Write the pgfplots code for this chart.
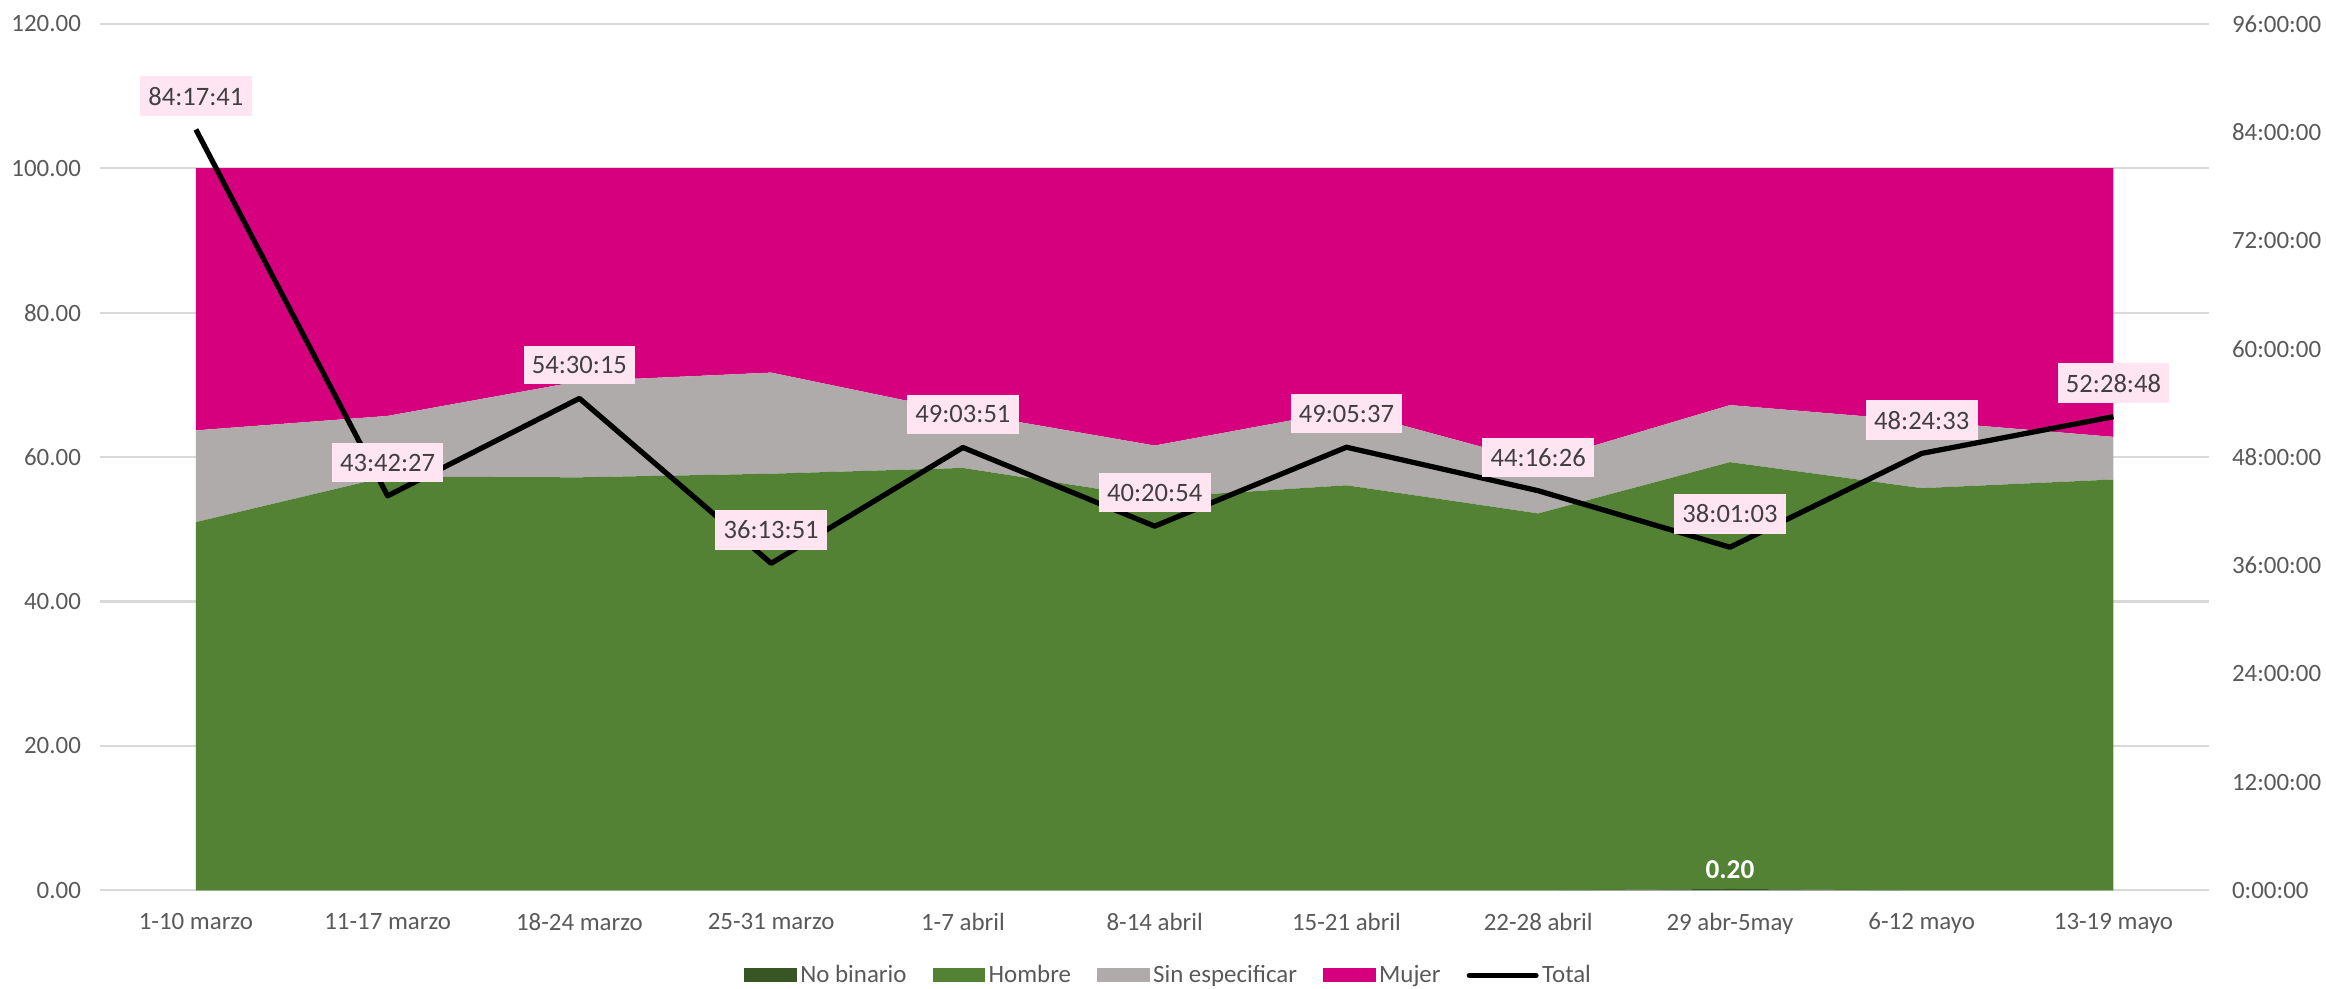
\documentclass[border=0pt]{standalone}
\usepackage{pgfplots}
\pgfplotsset{compat=1.18}
\usepackage{pgfplotstable}
\usepackage{fontspec}
\setmainfont{Carlito}
\definecolor{mujer}{HTML}{D6007F}
\definecolor{sinesp}{HTML}{AFABAB}
\definecolor{hombre}{HTML}{548235}
\definecolor{nobin}{HTML}{375623}
\definecolor{gridgray}{HTML}{D9D9D9}
\definecolor{ticktext}{HTML}{595959}
\definecolor{labfill}{HTML}{FFE5F2}
\definecolor{labtext}{HTML}{404040}

% percentages per week
\pgfplotstableread{
x nobin hombre sinesp mujer
0  0    51.0  12.7  36.3
1  0    57.3   8.4  34.3
2  0    57.2  13.3  29.5
3  0    57.7  14.0  28.3
4  0    58.5   7.7  33.8
5  0    54.4   7.2  38.4
6  0    56.1  10.4  33.5
7  0    52.2   7.1  40.7
8  0.2  59.1   7.9  32.8
9  0    55.7   9.3  35.0
10 0    56.9   5.9  37.2
}\pct

% total time in hours
\pgfplotstableread{
x hours label
0  84.2947 84:17:41
1  43.7075 43:42:27
2  54.5042 54:30:15
3  36.2308 36:13:51
4  49.0642 49:03:51
5  40.3483 40:20:54
6  49.0936 49:05:37
7  44.2739 44:16:26
8  38.0175 38:01:03
9  48.4092 48:24:33
10 52.4800 52:28:48
}\tot

\begin{document}
\begin{tikzpicture}
\path[use as bounding box] (-42bp,-41bp) rectangle (935bp,374bp);
\begin{axis}[
  scale only axis, width=886bp, height=364bp,
  xmin=-0.5, xmax=10.5, ymin=0, ymax=120,
  xtick={0,...,10},
  xticklabels={1-10 marzo,11-17 marzo,18-24 marzo,25-31 marzo,1-7 abril,8-14 abril,15-21 abril,22-28 abril,29 abr-5may,6-12 mayo,13-19 mayo},
  ytick={0,20,...,120},
  ymajorgrids, grid style={draw=gridgray, line width=0.9bp},
  axis line style={draw=none},
  major tick length=0pt,
  yticklabel style={/pgf/number format/fixed, /pgf/number format/fixed zerofill, /pgf/number format/precision=2, xshift=-4.5bp},
  /pgf/number format/assume math mode=true,
  tick label style={font=\fontsize{10.5}{12}\selectfont, text=ticktext},
  xticklabel style={yshift=-6bp},
  stack plots=y,
  legend style={draw=none, fill=none, at={(0.507,-0.098)}, anchor=center,
    font=\fontsize{10.5}{12}\selectfont, text=ticktext, legend columns=-1,
    nodes={inner xsep=1.5bp},
    /tikz/every even column/.append style={column sep=9.5bp}},
  area legend,
  legend image code/.code={\fill[#1] (0bp,-3bp) rectangle (22bp,3bp);},
]
\addplot[draw=none, fill=nobin] table[x=x, y=nobin] {\pct} \closedcycle;
\addlegendentry{No binario}
\addplot[draw=none, fill=hombre] table[x=x, y=hombre] {\pct} \closedcycle;
\addlegendentry{Hombre}
\addplot[draw=none, fill=sinesp] table[x=x, y=sinesp] {\pct} \closedcycle;
\addlegendentry{Sin especificar}
\addplot[draw=none, fill=mujer] table[x=x, y=mujer] {\pct} \closedcycle;
\addlegendentry{Mujer}
\addlegendimage{legend image code/.code={\draw[black, line width=2.2bp, line cap=round] (1bp,0bp) -- (29bp,0bp);}}
\addlegendentry{Total}
\end{axis}
\begin{axis}[
  scale only axis, width=886bp, height=364bp,
  xmin=-0.5, xmax=10.5, ymin=0, ymax=96,
  axis x line=none, axis y line*=right,
  y axis line style={draw=none},
  major tick length=0pt,
  ytick={0,12,...,96},
  yticklabels={0:00:00,12:00:00,24:00:00,36:00:00,48:00:00,60:00:00,72:00:00,84:00:00,96:00:00},
  yticklabel style={font=\fontsize{10.5}{12}\selectfont, text=ticktext, xshift=6bp},
]
\addplot[black, line width=2.2bp, line join=round,
  nodes near coords, point meta=explicit symbolic,
  every node near coord/.append style={anchor=center, yshift=14bp, fill=labfill, text=labtext,
    font=\fontsize{11.2}{13}\selectfont, inner xsep=3.5bp, inner ysep=4.5bp}]
  table[x=x, y=hours, meta=label] {\tot};
\node[text=white, font=\fontsize{11.5}{13}\selectfont\bfseries] at (axis cs:8,2.32) {0.20};
\end{axis}
\end{tikzpicture}
\end{document}
